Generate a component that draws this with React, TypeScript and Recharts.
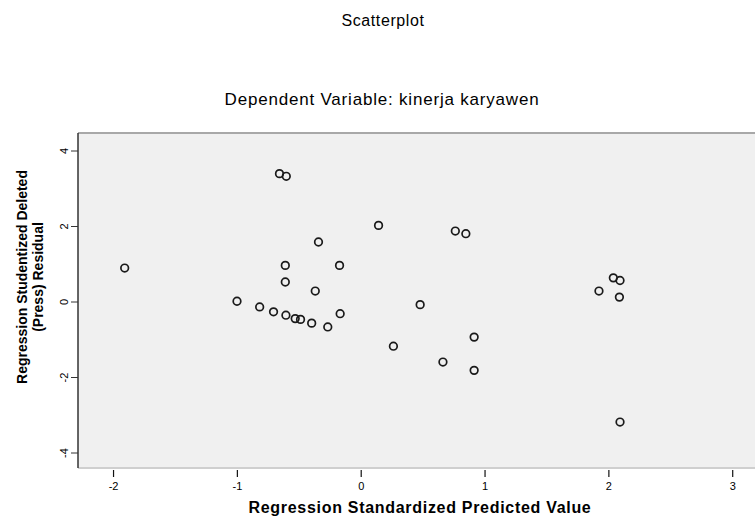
import { CartesianGrid, ReferenceLine, Scatter, ScatterChart, XAxis, YAxis } from "recharts";

const predicted = [
  -1.91, -0.66, -0.605, -0.345, -0.613, -0.175, -0.613, -0.371, -1.003, -0.82, -0.708, -0.608, -0.533,
  -0.49, -0.4, -0.27, -0.17, 0.14, 0.76, 0.845, 0.476, 0.26, 0.912, 0.66, 0.912, 2.036, 2.09, 1.92, 2.085,
  2.09,
];
const residuals = [
  0.9, 3.4, 3.33, 1.59, 0.97, 0.97, 0.53, 0.29, 0.02, -0.13, -0.26, -0.35, -0.44, -0.46, -0.56, -0.66, -0.31,
  2.03, 1.88, 1.81, -0.07, -1.17, -0.93, -1.59, -1.81, 0.64, 0.57, 0.29, 0.13, -3.18,
];
const xTicks = [-2, -1, 0, 1, 2, 3];
const yTicks = [-4, -2, 0, 2, 4];

const points = predicted.map((x, i) => ({ x, y: residuals[i] }));

const font = "Arial, 'Liberation Sans', sans-serif";

const XTick = (props: any) => {
  const { x, y, payload } = props;
  return (
    <g>
      <line x1={x} x2={x} y1={y + 2} y2={y + 9} stroke="#111" strokeWidth={1.2} />
      <text x={x} y={y + 18} textAnchor="middle" dominantBaseline="central" fontSize={11} fill="#000" fontFamily={font}>
        {payload.value}
      </text>
    </g>
  );
};

const YTick = (props: any) => {
  const { y, payload } = props;
  return (
    <text
      x={0}
      y={0}
      transform={`translate(64, ${y}) rotate(-90)`}
      textAnchor="middle"
      dominantBaseline="central"
      fontSize={11}
      fill="#000"
      fontFamily={font}
    >
      {payload.value}
    </text>
  );
};

const Ring = (props: any) => (
  <circle cx={props.cx} cy={props.cy} r={3.8} fill="none" stroke="#1a1a1a" strokeWidth={1.7} />
);

export default function App() {
  return (
    <div style={{ position: "absolute", left: 0, top: 0, width: 755, height: 519, overflow: "hidden", background: "#fff", fontFamily: font }}>
      <ScatterChart width={755} height={519} margin={{ top: 133, right: 0, bottom: 0, left: 0 }}>
        <CartesianGrid fill="#f0f0f0" horizontal={false} vertical={false} />
        <XAxis
          type="number"
          dataKey="x"
          domain={[-2.287, 3.18]}
          ticks={xTicks}
          height={51}
          axisLine={{ stroke: "#cfcfcf", strokeWidth: 2 }}
          tickLine={false}
          tickSize={0}
          tickMargin={0}
          tick={<XTick />}
          allowDataOverflow
        />
        <YAxis
          type="number"
          dataKey="y"
          domain={[-4.397, 4.477]}
          ticks={yTicks}
          width={78}
          axisLine={{ stroke: "#333", strokeWidth: 1.5 }}
          tickLine={{ stroke: "#333" }}
          tickSize={7}
          tick={<YTick />}
          allowDataOverflow
        />
        <ReferenceLine y={4.477} stroke="#a8a8a8" strokeWidth={2} ifOverflow="visible" />
        <Scatter data={points} shape={<Ring />} isAnimationActive={false} />
      </ScatterChart>
      <div style={{ position: "absolute", left: 0, width: 766, top: 12, textAlign: "center", fontSize: 16, color: "#000", letterSpacing: 0.6 }}>
        Scatterplot
      </div>
      <div style={{ position: "absolute", left: 0, width: 764, top: 90, textAlign: "center", fontSize: 17, color: "#000", letterSpacing: 0.8 }}>
        Dependent Variable: kinerja karyawen
      </div>
      <div style={{ position: "absolute", left: 0, width: 840, top: 499, textAlign: "center", fontSize: 16, fontWeight: "bold", color: "#000", letterSpacing: 0.7 }}>
        Regression Standardized Predicted Value
      </div>
      <div
        style={{
          position: "absolute",
          left: 30,
          top: 277,
          width: 300,
          transform: "translate(-50%, -50%) rotate(-90deg)",
          textAlign: "center",
          fontSize: 14,
          fontWeight: "bold",
          lineHeight: "16px",
          color: "#000",
        }}
      >
        Regression Studentized Deleted
        <br />
        (Press) Residual
      </div>
    </div>
  );
}
